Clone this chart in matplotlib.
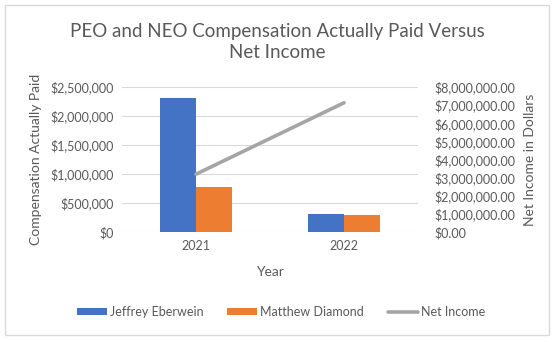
import numpy as np
import matplotlib.pyplot as plt
from matplotlib.patches import Rectangle
from matplotlib.ticker import FuncFormatter

plt.rcParams['font.family'] = ['Lato', 'DejaVu Sans']

years = ['2021', '2022']
jeffrey = [2305000, 310000]
matthew = [771000, 293000]
net_income = [3190000, 7130000]

blue = '#4472c4'
orange = '#ed7d31'
gray_line = '#a5a5a5'
txt = '#595959'

fig = plt.figure(figsize=(5.6, 3.42), dpi=100)

# outer chart frame
frame = Rectangle((4.5 / 560, 1 - 335 / 342), 544 / 560, 330 / 342,
                  transform=fig.transFigure, facecolor='none',
                  edgecolor='#d9d9d9', linewidth=1.0, zorder=-5)
fig.patches.append(frame)

ax = fig.add_axes([122 / 560, 1 - 232 / 342, 296 / 560, 145 / 342])
ax.set_facecolor('none')
x = np.arange(len(years))
w = 0.24
b1 = ax.bar(x - w / 2, jeffrey, w, color=blue, label='Jeffrey Eberwein', zorder=2)
b2 = ax.bar(x + w / 2, matthew, w, color=orange, label='Matthew Diamond', zorder=2)
ax.set_xlim(-0.5, 1.5)
ax.set_ylim(0, 2500000)
ax.set_yticks(np.arange(0, 2500001, 500000))
ax.yaxis.set_major_formatter(FuncFormatter(lambda v, p: '${:,.0f}'.format(v)))
ax.set_xticks(x)
ax.set_xticklabels(years)
ax.grid(axis='y', color='#d9d9d9', linewidth=0.8, zorder=0)
for s in ax.spines.values():
    s.set_visible(False)
ax.tick_params(length=0, colors=txt, labelsize=9, pad=6)
ax.set_ylabel('Compensation Actually Paid', color=txt, fontsize=10, labelpad=6)
ax.set_xlabel('Year', color=txt, fontsize=10, labelpad=10)

ax2 = ax.twinx()
ln, = ax2.plot(x, net_income, color=gray_line, linewidth=2.6,
               solid_capstyle='round', label='Net Income', zorder=3)
ax2.set_ylim(0, 8000000)
ax2.set_yticks(np.arange(0, 8000001, 1000000))
ax2.yaxis.set_major_formatter(FuncFormatter(lambda v, p: '${:,.2f}'.format(v)))
for s in ax2.spines.values():
    s.set_visible(False)
ax2.tick_params(length=0, colors=txt, labelsize=9, pad=12)
ax2.set_ylabel('Net Income in Dollars', color=txt, fontsize=10, labelpad=6)

fig.text(277 / 560, 1 - 42 / 342,
         'PEO and NEO Compensation Actually Paid Versus\nNet Income',
         ha='center', va='center', fontsize=13.5, color=txt, linespacing=1.35)

fig.legend([b1, b2, ln], ['Jeffrey Eberwein', 'Matthew Diamond', 'Net Income'],
           loc='center', bbox_to_anchor=(281 / 560, 1 - 312 / 342),
           ncol=3, frameon=False, fontsize=9, labelcolor=txt,
           handlelength=2.4, handleheight=0.55, handletextpad=0.25,
           columnspacing=1.9)

fig.savefig('out.png', dpi=100)
